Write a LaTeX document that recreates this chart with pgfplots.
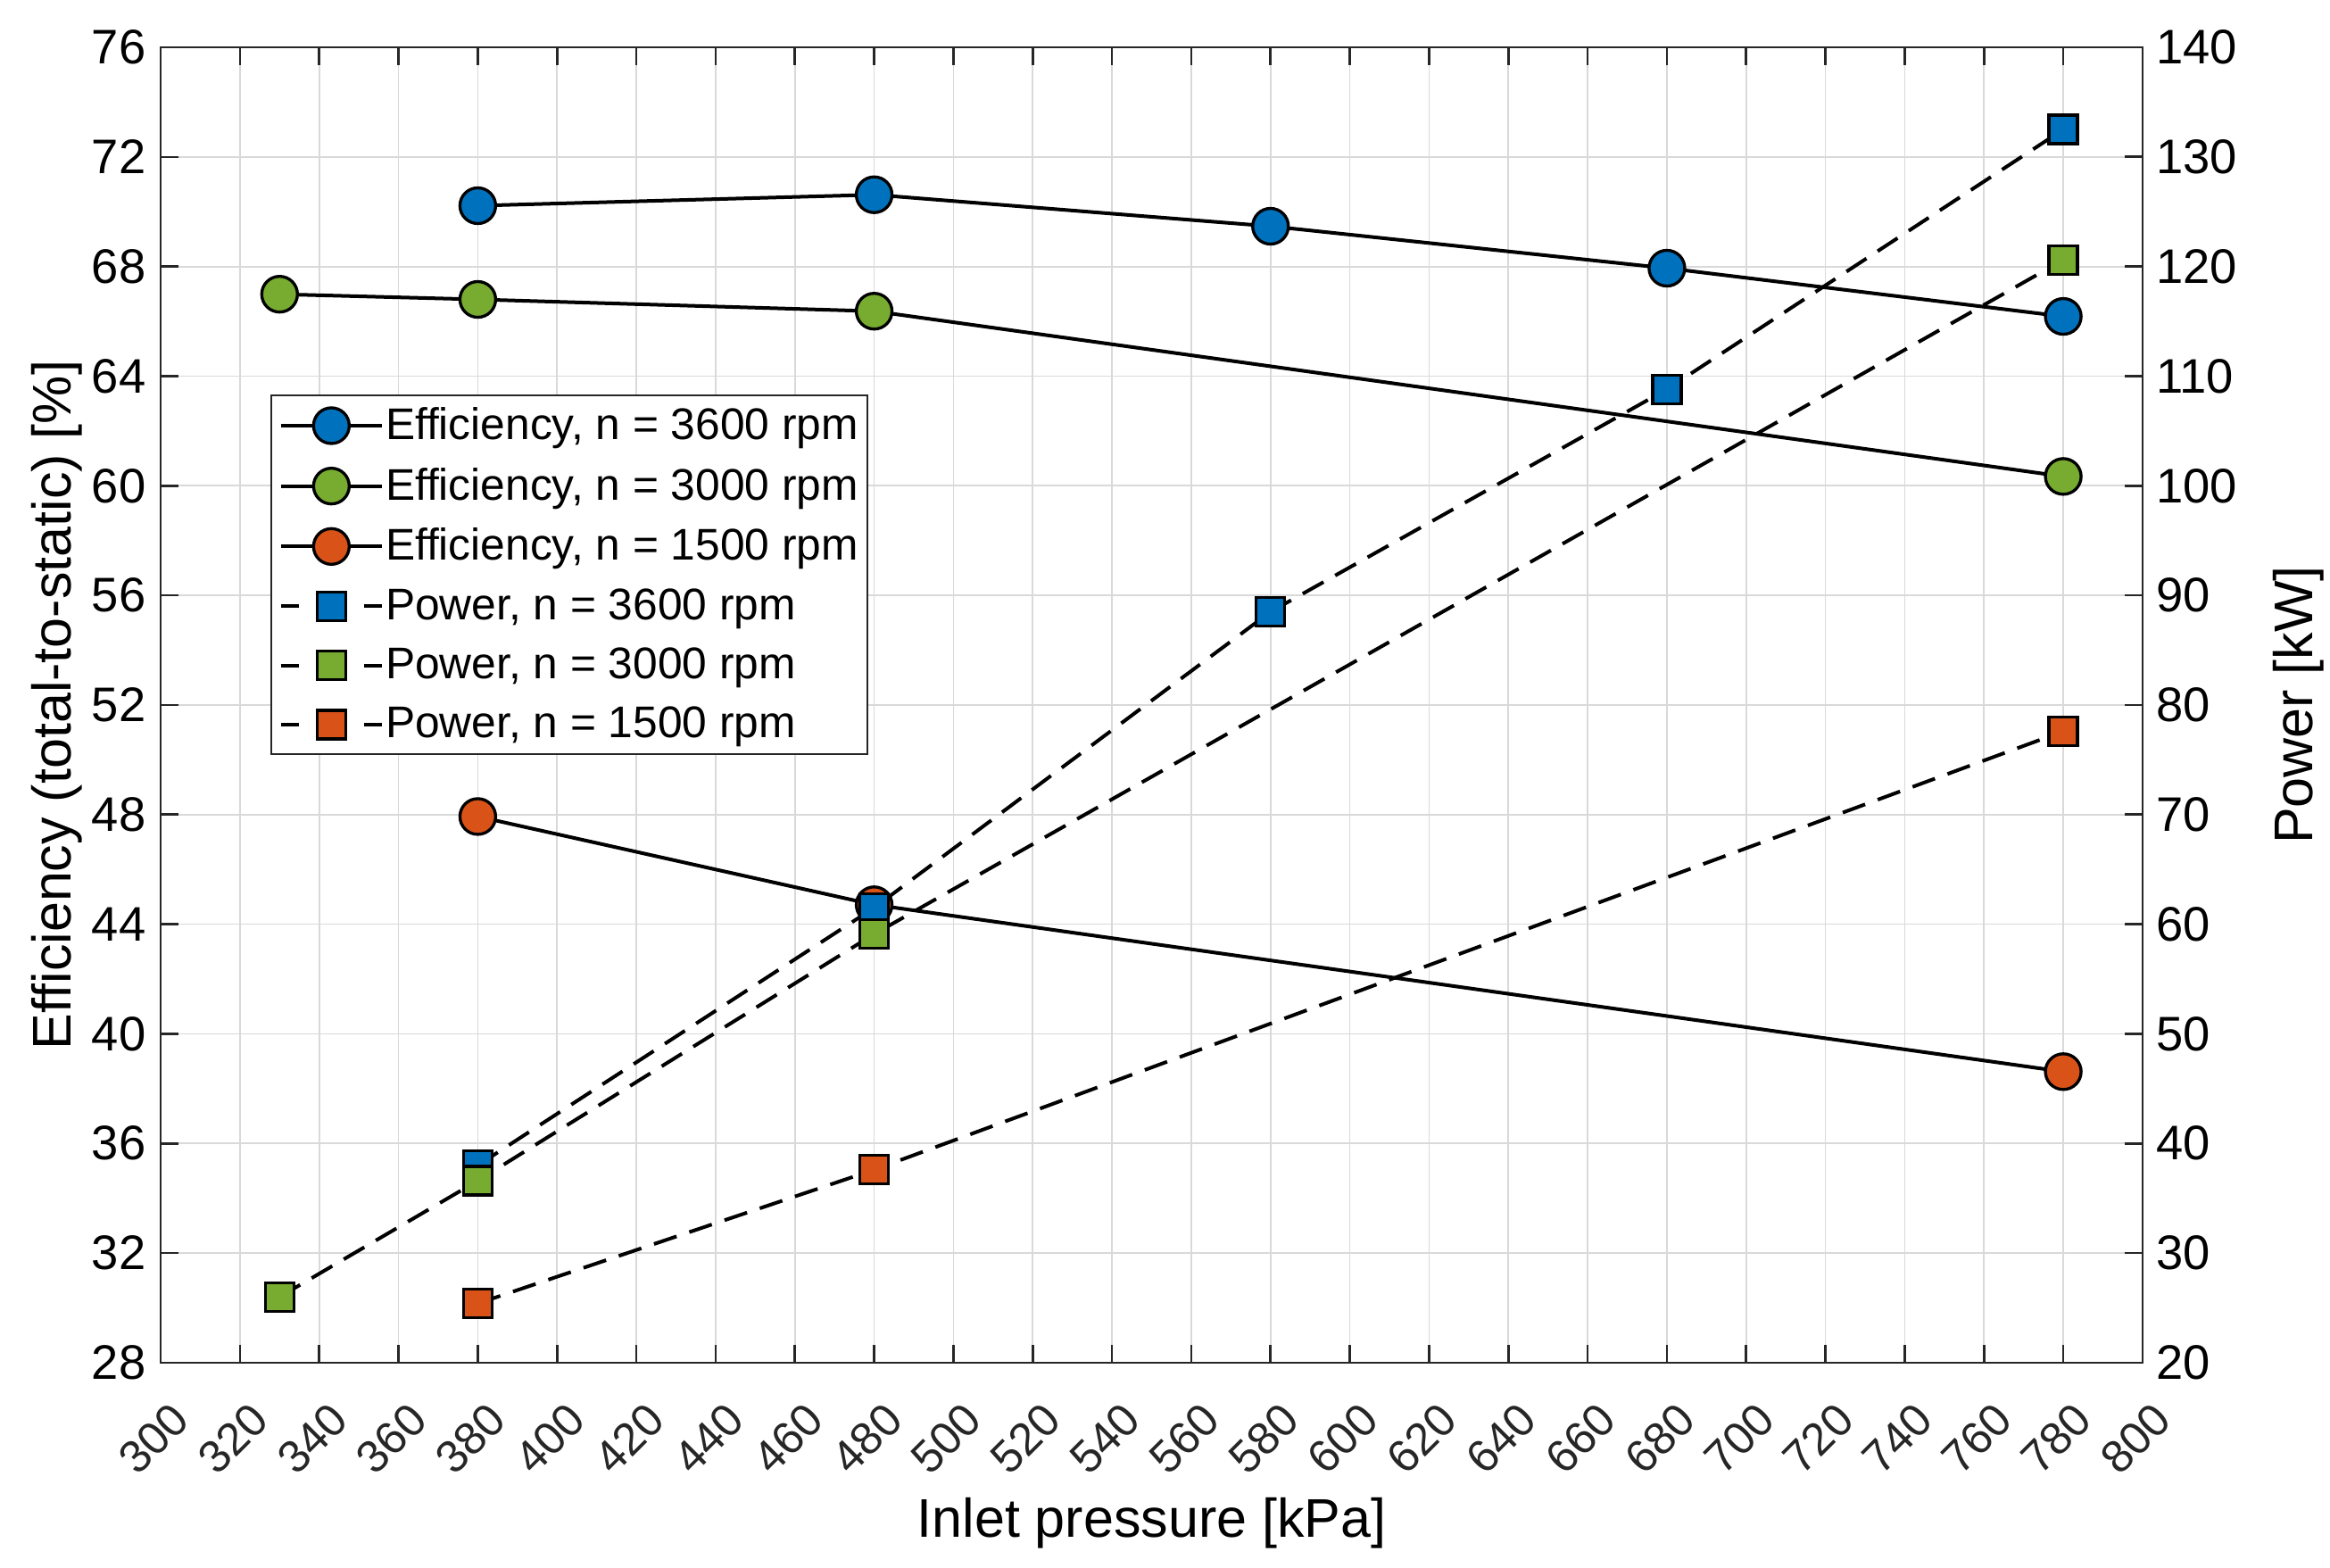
\documentclass[border=0pt]{standalone}
\usepackage{fontspec}
\setmainfont{Liberation Sans}
\usepackage{pgfplots}
\pgfplotsset{compat=1.18}
\definecolor{mblue}{RGB}{0,114,189}
\definecolor{mgreen}{RGB}{119,172,48}
\definecolor{morange}{RGB}{217,83,25}
\definecolor{axgray}{RGB}{38,38,38}

\begin{document}
\begin{tikzpicture}
\pgfplotsset{
  common/.style={
    width=666pt, height=442pt, scale only axis,
    xmin=300, xmax=800,
    /pgf/number format/assume math mode=true,
    yticklabel style={font=\fontsize{16.3}{18}\selectfont, text=black},
    xticklabel style={font=\fontsize{15.3}{17}\selectfont, text=axgray},
    label style={font=\fontsize{18.3}{21}\selectfont},
    axis line style={axgray, line width=0.8pt},
    major tick style={axgray, line width=0.8pt},
    major tick length=6pt,
    tick align=inside,
  },
  eff/.style={black, line width=1.2pt, mark=*, mark size=6pt,
    mark options={solid, fill=#1, draw=black, line width=1pt}},
  pow/.style={black, line width=1.2pt, dash pattern=on 8pt off 4.5pt, mark=square*, mark size=4.8pt,
    mark options={solid, fill=#1, draw=black, line width=1pt}},
}
\begin{axis}[common, name=ax,
  ymin=28, ymax=76, ytick={28,32,...,76},
  xtick={300,320,...,800},
  xticklabel style={xshift=-2.4pt, yshift=-25.5pt, rotate=45, anchor=center},
  yticklabel style={xshift=-1.5pt},
  ytick pos=left,
  grid=major, grid style={black!15, line width=0.5pt},
  xlabel={Inlet pressure [kPa]},
  xlabel style={at={(axis description cs:0.5,0)}, anchor=center, yshift=-54pt},
  ylabel={Efficiency (total-to-static) [\%]},
  ylabel style={at={(axis description cs:-0.0525,0.5)}, anchor=center},
]
\addplot[eff=mblue] coordinates {(380,70.22) (480,70.62) (580,69.47) (680,67.94) (780,66.18)};
\addplot[eff=mgreen] coordinates {(330,66.99) (380,66.80) (480,66.37) (780,60.34)};
\addplot[eff=morange] coordinates {(380,47.93) (480,44.71) (780,38.62)};
\end{axis}
\begin{axis}[common,
  ymin=20, ymax=140, ytick={20,30,...,140},
  axis y line*=right, axis x line=none,
  yticklabel style={xshift=1pt},
  ylabel={Power [kW]},
  ylabel style={at={(axis description cs:1.0785,0.5)}, anchor=center},
  legend style={at={(0.0555,0.736)}, anchor=north west, draw=axgray, fill=white,
    font=\fontsize{14.9}{17}\selectfont, line width=0.6pt,
    row sep=4pt, inner xsep=2.5pt, inner ysep=2pt,
    nodes={inner xsep=0.6pt, inner ysep=2pt}},
  legend cell align=left,
]
\addlegendimage{eff=mblue, legend image code/.code={\draw[mark repeat=2,mark phase=2] plot coordinates {(0pt,0pt)(17pt,0pt)(34pt,0pt)};}}
\addlegendentry{Efficiency, n = 3600 rpm}
\addlegendimage{eff=mgreen, legend image code/.code={\draw[mark repeat=2,mark phase=2] plot coordinates {(0pt,0pt)(17pt,0pt)(34pt,0pt)};}}
\addlegendentry{Efficiency, n = 3000 rpm}
\addlegendimage{eff=morange, legend image code/.code={\draw[mark repeat=2,mark phase=2] plot coordinates {(0pt,0pt)(17pt,0pt)(34pt,0pt)};}}
\addlegendentry{Efficiency, n = 1500 rpm}
\pgfplotsset{powleg/.style={legend image code/.code={
  \draw[dash pattern=on 6pt off 22pt] (0pt,0pt) -- (34pt,0pt);
  \draw[solid] plot[only marks] coordinates {(17pt,0pt)};}}}
\addplot[pow=mblue, powleg] coordinates {(380,38.0) (480,61.5) (580,88.5) (680,108.8) (780,132.5)};
\addlegendentry{Power, n = 3600 rpm}
\addplot[pow=mgreen, powleg] coordinates {(330,26.0) (380,36.6) (480,59.1) (780,120.6)};
\addlegendentry{Power, n = 3000 rpm}
\addplot[pow=morange, powleg] coordinates {(380,25.4) (480,37.6) (780,77.6)};
\addlegendentry{Power, n = 1500 rpm}
\end{axis}
\pgfresetboundingbox
\path[use as bounding box] ([xshift=-54pt,yshift=-68.7pt]ax.south west) rectangle ([xshift=63pt,yshift=15.9pt]ax.north east);
\end{tikzpicture}
\end{document}
